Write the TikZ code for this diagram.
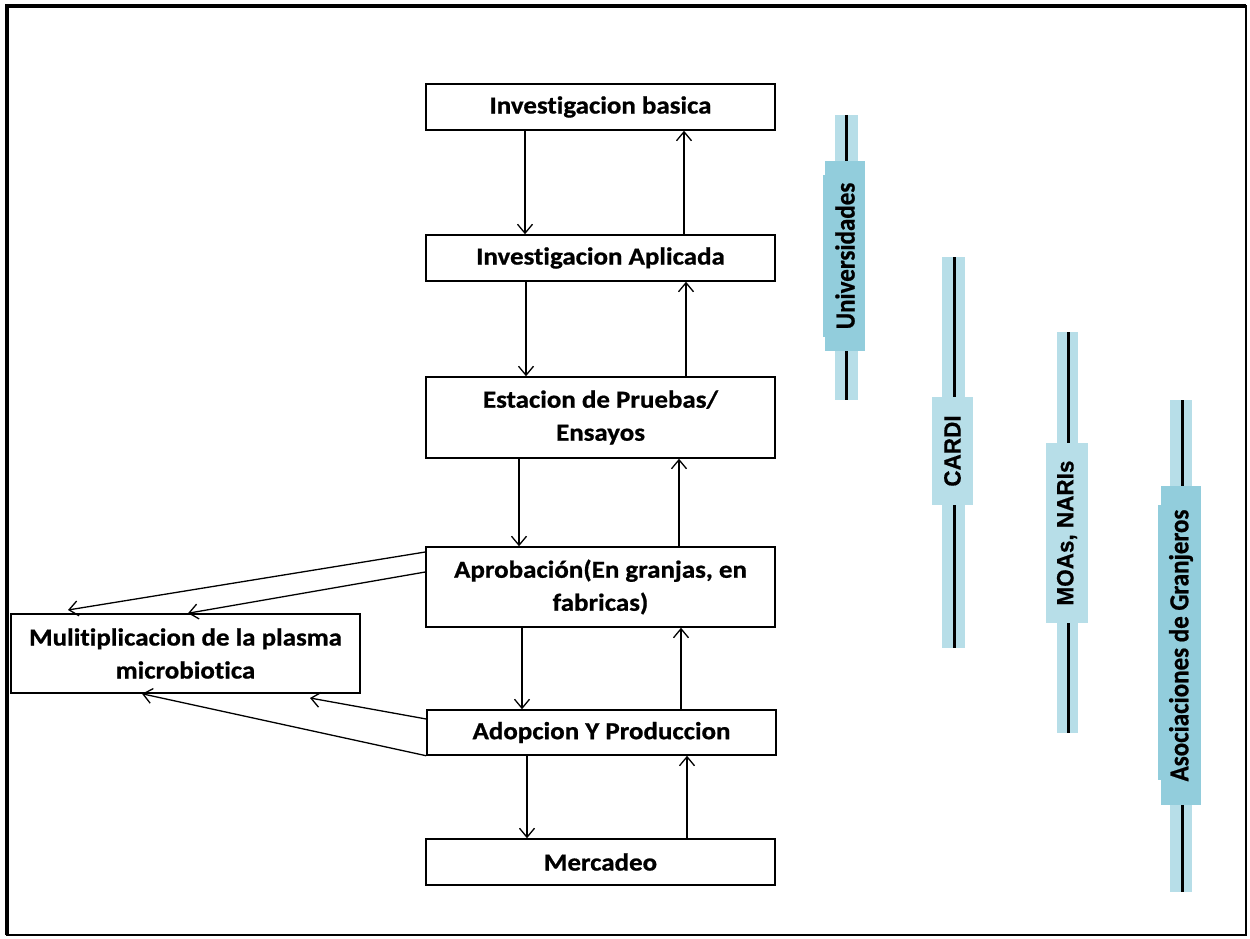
\documentclass[tikz,border=0pt]{standalone}
\usepackage{fontspec}
\setmainfont{Carlito}
\newfontfamily\boxf[FakeStretch=1.1,FakeBold=0.8,RawFeature=-liga]{Carlito}
\newfontfamily\calf[FakeBold=0.8,RawFeature=-liga]{Carlito}
\newfontfamily\arialf[FakeBold=0.5]{Liberation Sans}
\usetikzlibrary{arrows.meta}
\definecolor{lightb}{HTML}{B7DEE8}
\definecolor{medb}{HTML}{92CDDC}
\begin{document}
\begin{tikzpicture}[x=1pt,y=-1pt,
  proc/.style={draw=black, line width=1.5pt, fill=white, minimum width=349pt,
    inner sep=0pt, align=center, font=\boxf\bfseries\fontsize{24.5}{33}\selectfont},
  arr/.style={line width=1.3pt, -{Straight Barb[length=9pt,width=15pt]}},
  strip/.style={fill=lightb},
  bar/.style={line width=3pt, black},
  vlab/.style={rotate=90, inner sep=0pt, font=\calf\bfseries\fontsize{25}{30}\selectfont},
  vlabA/.style={rotate=90, inner sep=0pt, font=\arialf\bfseries\fontsize{22.5}{27}\selectfont}
]
\useasboundingbox (0,0) rectangle (1250,939);
\draw[line width=2.5pt] (7,6) rectangle (1246,935);
\draw[line width=4pt] (7,935) -- (7,6) -- (1246,6);

% process boxes
\node[proc, minimum height=46pt] (b1) at (600.5,107) {Investigacion basica};
\node[proc, minimum height=46pt] (b2) at (600.5,258) {Investigacion Aplicada};
\node[proc, minimum height=81pt] (b3) at (600.5,417.5) {Estacion de Pruebas/\\Ensayos};
\node[proc, minimum height=80pt] (b4) at (600.5,587) {Aprobación(En granjas, en\\fabricas)};
\node[proc, minimum height=79pt] (b5) at (185.5,653.5) {Mulitiplicacion de la plasma\\microbiotica};
\node[proc, minimum height=45pt] (b6) at (601.5,732.5) {Adopcion Y Produccion};
\node[proc, minimum height=46pt] (b7) at (600.5,862) {Mercadeo};

% vertical arrows
\draw[arr] (b1.south -| 525,0) -- (b2.north -| 525,0);
\draw[arr] (b2.north -| 684,0) -- (b1.south -| 684,0);
\draw[arr] (b2.south -| 526,0) -- (b3.north -| 526,0);
\draw[arr] (b3.north -| 686,0) -- (b2.south -| 686,0);
\draw[arr] (b3.south -| 519,0) -- (b4.north -| 519,0);
\draw[arr] (b4.north -| 679,0) -- (b3.south -| 679,0);
\draw[arr] (b4.south -| 522,0) -- (b6.north -| 522,0);
\draw[arr] (b6.north -| 681,0) -- (b4.south -| 681,0);
\draw[arr] (b6.south -| 527,0) -- (b7.north -| 527,0);
\draw[arr] (b7.north -| 687,0) -- (b6.south -| 687,0);

% slanted arrows to multiplication box
\coordinate (m1) at (68,610);
\coordinate (m3) at (310,698);
\draw[arr] (b4.west |- 0,552) -- (m1);
\draw[arr] (b4.west |- 0,572) -- (b5.north -| 188,0);
\draw[arr] (b6.west |- 0,719) -- (m3);
\draw[arr] (b6.south west) -- (b5.south -| 142,0);

% Universidades
\fill[strip] (835,115) rectangle (858,400);
\draw[bar] (846,115) -- (846,400);
\fill[medb] (823,175) rectangle (826,337);
\node[vlab, fill=medb, minimum width=190pt, minimum height=40pt] (u) at (845,256) {\scalebox{1}[1.1]{Universidades}};

% CARDI
\fill[strip] (942,257) rectangle (965,648);
\draw[bar] (954,257) -- (954,648);
\node[vlabA, fill=lightb, minimum width=108pt, minimum height=41pt] (c) at (952.5,451) {\scalebox{1}[1.05]{CARDI}};

% MOAs, NARIs
\fill[strip] (1057,332) rectangle (1078,733);
\draw[bar] (1068,332) -- (1068,733);
\node[vlabA, fill=lightb, minimum width=180pt, minimum height=42pt] (m) at (1067,533) {\scalebox{1}[1.05]{MOAs, NARIs}};

% Asociaciones de Granjeros
\fill[strip] (1170,400) rectangle (1192,892);
\draw[bar] (1182,400) -- (1182,892);
\fill[medb] (1158,505) rectangle (1162,780);
\node[vlab, fill=medb, minimum width=319pt, minimum height=40pt] (a) at (1181,645.5) {\scalebox{1}[1.1]{Asociaciones de Granjeros}};
\end{tikzpicture}
\end{document}
